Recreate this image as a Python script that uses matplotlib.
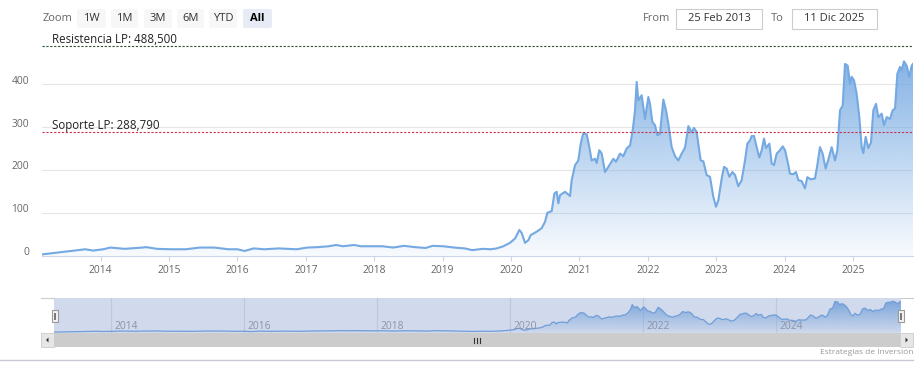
import numpy as np
import matplotlib
matplotlib.use("Agg")
import matplotlib.pyplot as plt
from matplotlib.patches import Rectangle, FancyBboxPatch, Polygon
from matplotlib.path import Path
from matplotlib.transforms import ScaledTranslation

plt.rcParams['font.family'] = ['Open Sans', 'DejaVu Sans']

# price series, x in decimal years
years = [2013.142, 2013.356, 2013.565, 2013.775, 2013.890, 2014.037, 2014.141, 2014.351,
         2014.613, 2014.665, 2014.822, 2015.031, 2015.241, 2015.450, 2015.660, 2015.869,
         2016.000, 2016.105, 2016.236, 2016.393, 2016.602, 2016.864, 2017.021, 2017.178,
         2017.335, 2017.440, 2017.545, 2017.702, 2017.806, 2017.963, 2018.120, 2018.277,
         2018.435, 2018.592, 2018.749, 2018.853, 2019.010, 2019.168, 2019.325, 2019.430,
         2019.586, 2019.700, 2019.790, 2019.887, 2019.984, 2020.058, 2020.121, 2020.155,
         2020.204, 2020.252, 2020.287, 2020.374, 2020.447, 2020.496, 2020.530, 2020.594,
         2020.633, 2020.667, 2020.691, 2020.715, 2020.789, 2020.862, 2020.886, 2020.935,
         2020.983, 2021.018, 2021.056, 2021.105, 2021.144, 2021.178, 2021.227, 2021.251,
         2021.290, 2021.325, 2021.373, 2021.422, 2021.495, 2021.534, 2021.593, 2021.641,
         2021.690, 2021.739, 2021.778, 2021.812, 2021.836, 2021.861, 2021.909, 2021.958,
         2022.007, 2022.031, 2022.065, 2022.104, 2022.138, 2022.177, 2022.226, 2022.265,
         2022.299, 2022.348, 2022.397, 2022.445, 2022.494, 2022.543, 2022.592, 2022.640,
         2022.674, 2022.713, 2022.772, 2022.811, 2022.859, 2022.908, 2022.957, 2022.996,
         2023.030, 2023.079, 2023.113, 2023.152, 2023.191, 2023.235, 2023.274, 2023.322,
         2023.371, 2023.420, 2023.454, 2023.493, 2023.517, 2023.551, 2023.590, 2023.629,
         2023.664, 2023.698, 2023.727, 2023.776, 2023.810, 2023.844, 2023.883, 2023.932,
         2023.971, 2024.005, 2024.039, 2024.078, 2024.126, 2024.165, 2024.200, 2024.248,
         2024.297, 2024.331, 2024.380, 2024.443, 2024.477, 2024.516, 2024.555, 2024.599,
         2024.638, 2024.687, 2024.736, 2024.770, 2024.809, 2024.848, 2024.882, 2024.921,
         2024.955, 2024.979, 2025.013, 2025.052, 2025.091, 2025.126, 2025.150, 2025.184,
         2025.223, 2025.262, 2025.296, 2025.335, 2025.369, 2025.418, 2025.452, 2025.491,
         2025.540, 2025.579, 2025.613, 2025.647, 2025.686, 2025.710, 2025.744, 2025.783,
         2025.822, 2025.857, 2025.876]
prices = [3, 7, 11, 15, 12, 15, 19, 16,
          19, 20, 16, 15, 15, 19, 19, 15,
          15, 11, 17, 15, 17, 15, 19, 20,
          22, 25, 22, 25, 22, 22, 22, 19,
          23, 20, 18, 23, 22, 19, 17, 13,
          16, 15, 17, 22, 30, 40, 60, 53,
          30, 36, 48, 56, 64, 79, 100, 104,
          145, 149, 122, 141, 149, 139, 176, 211,
          222, 261, 286, 283, 253, 222, 226, 216,
          246, 238, 195, 207, 226, 219, 238, 232,
          250, 257, 292, 339, 405, 362, 374, 319,
          370, 354, 312, 304, 281, 284, 364, 339,
          308, 253, 232, 222, 238, 252, 302, 288,
          298, 288, 222, 220, 188, 184, 137, 114,
          129, 180, 207, 203, 184, 195, 188, 162,
          176, 222, 261, 269, 279, 279, 253, 229,
          246, 273, 251, 261, 215, 211, 238, 246,
          255, 246, 222, 191, 190, 195, 176, 174,
          157, 183, 178, 180, 211, 253, 238, 203,
          224, 253, 222, 246, 339, 350, 447, 443,
          401, 417, 409, 378, 323, 253, 239, 277,
          251, 264, 339, 354, 323, 331, 304, 323,
          319, 339, 343, 424, 440, 432, 453, 443,
          417, 443, 447]

resistencia = 488.5
soporte = 288.79
y_ticks = [0, 100, 200, 300, 400]
x_ticks = list(range(2014, 2026))
nav_ticks = [2014, 2016, 2018, 2020, 2022, 2024]
range_buttons = ['1W', '1M', '3M', '6M', 'YTD', 'All']
date_from = '25 Feb 2013'
date_to = '11 Dic 2025'

W, H = 921, 374
LINE = '#74a9e2'
x = np.array(years)
y = np.array(prices)
x0, x1 = years[0], years[-1]


def grad_fill(a, top, alpha_top):
    grad = np.zeros((256, 1, 4))
    grad[:, 0, 0] = 110 / 255
    grad[:, 0, 1] = 165 / 255
    grad[:, 0, 2] = 225 / 255
    grad[:, 0, 3] = np.linspace(alpha_top, 0.05, 256)
    im = a.imshow(grad, extent=[x0, x1, 0, top], aspect='auto', origin='upper', zorder=1)
    verts = np.column_stack([np.r_[x[0], x, x[-1]], np.r_[0, y, 0]])
    im.set_clip_path(Path(verts), a.transData)


fig = plt.figure(figsize=(W / 100, H / 100), dpi=100)

# main chart
ax = fig.add_axes([42 / W, 1 - 255.7 / H, 871 / W, 214.5 / H])
grad_fill(ax, 460, 0.85)
ax.plot(x, y, color=LINE, lw=1.5, zorder=2, solid_joinstyle='round')
ax.set_xlim(x0, x1)
ax.set_ylim(0, 500)
ax.set_yticks(y_ticks)
ax.set_xticks(x_ticks)
ax.set_xticklabels([str(t) for t in x_ticks])
ax.grid(axis='y', color='#e6e6e6', lw=0.8)
ax.set_axisbelow(True)
for s in ['left', 'right', 'top']:
    ax.spines[s].set_visible(False)
ax.spines['bottom'].set_color('#ccd6eb')
ax.tick_params(axis='x', colors='#ccd6eb', labelcolor='#666666', length=3.6, width=0.8,
               pad=3, labelsize=7.4)
ax.tick_params(axis='y', length=0, pad=9.4, labelcolor='#666666', labelsize=7.4)
for lbl in ax.get_yticklabels():
    lbl.set_transform(lbl.get_transform() + ScaledTranslation(0, 4.5 / 100, fig.dpi_scale_trans))

ax.axhline(resistencia, color='#2e5234', lw=0.8, ls=(0, (2, 1.5)), zorder=3)
ax.axhline(soporte, color='#c8324a', lw=0.8, ls=(0, (2, 1.5)), zorder=3)
ax.annotate('Resistencia LP: 488,500', xy=(0.0115, resistencia), xycoords=('axes fraction', 'data'),
            xytext=(0, 2), textcoords='offset points', va='baseline', fontsize=8.3, color='#222222')
ax.annotate('Soporte LP: 288,790', xy=(0.0115, soporte), xycoords=('axes fraction', 'data'),
            xytext=(0, 2), textcoords='offset points', va='baseline', fontsize=8.3, color='#222222',
            zorder=4)

# navigator
nav = fig.add_axes([54 / W, 1 - 333 / H, 847 / W, 35 / H])
nav.set_facecolor('white')
for t in nav_ticks:
    nav.axvline(t, color='#e6e6e6', lw=0.8, zorder=0)
grad_fill(nav, 460, 0.85)
nav.plot(x, y, color=LINE, lw=0.9, zorder=2)
nav.axvspan(x0, x1, color='#6685c2', alpha=0.3, lw=0, zorder=5)
for t in nav_ticks:
    nav.annotate(str(t), xy=(t, 0.18), xycoords=('data', 'axes fraction'), xytext=(2.2, 0),
                 textcoords='offset points', va='center', fontsize=7.4, color='#8c93a6', zorder=6)
nav.set_xlim(x0, x1)
nav.set_ylim(-10, 500)
nav.set_xticks([])
nav.set_yticks([])
for s in nav.spines.values():
    s.set_visible(False)

# overlay for the UI bits (pixel coordinates)
ov = fig.add_axes([0, 0, 1, 1], zorder=10)
ov.set_xlim(0, W)
ov.set_ylim(H, 0)
ov.axis('off')
ov.patch.set_alpha(0)

ov.text(43, 18.5, 'Zoom', fontsize=8, color='#666666', va='center')
btn_x = [77, 111, 144, 177, 209, 243]
btn_w = [29, 27, 28, 27, 28, 29]
for bx, bw, lab in zip(btn_x, btn_w, range_buttons):
    sel = lab == 'All'
    ov.add_patch(FancyBboxPatch((bx, 9), bw, 19, boxstyle='round,pad=0,rounding_size=2',
                                fc='#e6ebf5' if sel else '#f7f7f7', ec='none'))
    ov.text(bx + bw / 2, 18.5, lab, ha='center', va='center', fontsize=8,
            color='#000000' if sel else '#333333', fontweight='bold' if sel else 'normal')

ov.text(643, 18.5, 'From', fontsize=8, color='#666666', va='center')
ov.add_patch(Rectangle((676, 9), 86, 20, fc='white', ec='#cccccc', lw=0.8))
ov.text(719, 18.5, date_from, ha='center', va='center', fontsize=8, color='#333333')
ov.text(771, 18.5, 'To', fontsize=8, color='#666666', va='center')
ov.add_patch(Rectangle((792, 9), 85, 20, fc='white', ec='#cccccc', lw=0.8))
ov.text(834.5, 18.5, date_to, ha='center', va='center', fontsize=8, color='#333333')

# navigator outline + handles
ov.plot([41, 54], [298, 298], color='#cccccc', lw=0.8)
ov.plot([901, 913], [298, 298], color='#cccccc', lw=0.8)
for hx in [51.5, 897.5]:
    ov.add_patch(Rectangle((hx, 309.5), 6, 12, fc='#f2f2f2', ec='#999999', lw=0.8))
    ov.plot([hx + 2.2, hx + 2.2], [312.5, 318.5], color='#777777', lw=0.7)
    ov.plot([hx + 3.8, hx + 3.8], [312.5, 318.5], color='#777777', lw=0.7)

# scrollbar
ov.add_patch(Rectangle((41, 333), 872, 14, fc='#f2f2f2', ec='none'))
ov.add_patch(Rectangle((54, 333), 846, 14, fc='#cccccc', ec='none'))
ov.add_patch(Rectangle((41, 333), 13, 14, fc='#e6e6e6', ec='#cccccc', lw=0.6))
ov.add_patch(Rectangle((900, 333), 13, 14, fc='#e6e6e6', ec='#cccccc', lw=0.6))
ov.add_patch(Polygon([[46, 340], [48.5, 337.5], [48.5, 342.5]], closed=True, fc='#333333', ec='none'))
ov.add_patch(Polygon([[908, 340], [905.5, 337.5], [905.5, 342.5]], closed=True, fc='#333333', ec='none'))
for rx in [474, 477, 480]:
    ov.plot([rx, rx], [337.5, 342.5], color='#333333', lw=0.8)

ov.plot([0, 913], [360, 360], color='#c8c8d8', lw=1)
ov.text(913, 352, 'Estrategias de Inversión', ha='right', va='center', fontsize=6, color='#999999')

fig.savefig('out.png', dpi=100)
